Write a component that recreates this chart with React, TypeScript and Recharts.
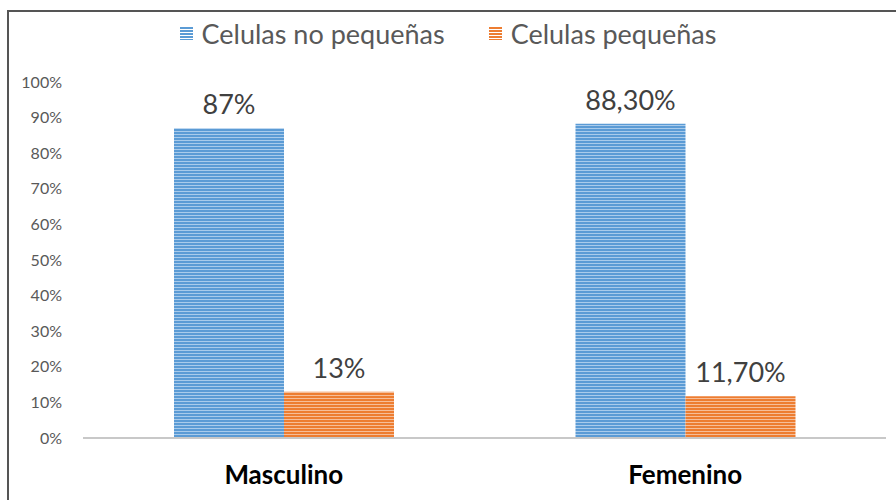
import React from "react";
import {
  BarChart,
  Bar,
  XAxis,
  YAxis,
  Legend,
  LabelList,
} from "recharts";

const categories = ["Masculino", "Femenino"];
const noPequenas = [87, 88.3];
const pequenas = [13, 11.7];
const noPequenasLabels = ["87%", "88,30%"];
const pequenasLabels = ["13%", "11,70%"];
const yTicks = [0, 10, 20, 30, 40, 50, 60, 70, 80, 90, 100];

const seriesNames = ["Celulas no pequeñas", "Celulas pequeñas"];
const blue = "#5B9BD5";
const orange = "#ED7D31";

const chartData = categories.map((name, i) => ({
  name,
  noPeq: noPequenas[i],
  peq: pequenas[i],
  noPeqLabel: noPequenasLabels[i],
  peqLabel: pequenasLabels[i],
}));

const font = "Lato, 'Open Sans', sans-serif";

function LegendContent() {
  const items = [
    { label: seriesNames[0], color: blue },
    { label: seriesNames[1], color: orange },
  ];
  return (
    <div
      style={{
        display: "flex",
        justifyContent: "center",
        height: 40,
        alignItems: "center",
        fontFamily: font,
        fontSize: 27,
        color: "#595959",
      }}
    >
      {items.map((it) => (
        <span
          key={it.label}
          style={{ display: "flex", alignItems: "center", margin: "0 22px" }}
        >
          <span
            style={{
              width: 13,
              height: 13,
              marginRight: 9,
              background: `repeating-linear-gradient(to bottom, ${it.color} 0px, ${it.color} 2px, rgba(255,255,255,0.45) 2px, rgba(255,255,255,0.45) 3px)`,
            }}
          />
          {it.label}
        </span>
      ))}
    </div>
  );
}

export default function App() {
  return (
    <div
      style={{
        position: "absolute",
        left: 0,
        top: 0,
        width: 896,
        height: 500,
        background: "#fff",
        overflow: "hidden",
      }}
    >
      <div
        style={{
          position: "absolute",
          left: 7,
          top: 10,
          width: 950,
          height: 550,
          border: "2px solid #555",
          boxSizing: "border-box",
        }}
      />
      <div style={{ position: "absolute", left: 0, top: 0 }}>
        <BarChart
          width={896}
          height={500}
          data={chartData}
          margin={{ top: 42, right: 10, left: 0, bottom: 32 }}
          barCategoryGap="22.5%"
          barGap={0}
        >
          <defs>
            <pattern id="stripeBlue" width="4" height="3" patternUnits="userSpaceOnUse">
              <rect width="4" height="3" fill={blue} />
              <rect y="2" width="4" height="1" fill="#A9CBEB" />
            </pattern>
            <pattern id="stripeOrange" width="4" height="3" patternUnits="userSpaceOnUse">
              <rect width="4" height="3" fill={orange} />
              <rect y="2" width="4" height="1" fill="#F6BE99" />
            </pattern>
          </defs>
          <Legend
            verticalAlign="top"
            content={<LegendContent />}
            wrapperStyle={{ top: 13, left: 0, width: 896 }}
          />
          <XAxis
            dataKey="name"
            height={30}
            axisLine={{ stroke: "#c8c8c8", strokeWidth: 2 }}
            tickLine={false}
            tickSize={0}
            tickMargin={28}
            tick={{ fill: "#000", fontSize: 26, fontWeight: 700, fontFamily: font }}
          />
          <YAxis
            width={83}
            domain={[0, 100]}
            ticks={yTicks}
            interval={0}
            axisLine={false}
            tickLine={false}
            tickSize={0}
            tickMargin={21}
            tickFormatter={(v) => `${v}%`}
            tick={{ fill: "#595959", fontSize: 16, fontFamily: font }}
          />
          <Bar
            dataKey="noPeq"
            name={seriesNames[0]}
            fill="url(#stripeBlue)"
            barSize={110}
            isAnimationActive={false}
          >
            <LabelList
              dataKey="noPeqLabel"
              position="top"
              offset={14}
              fill="#404040"
              fontSize={27}
              fontFamily={font}
            />
          </Bar>
          <Bar
            dataKey="peq"
            name={seriesNames[1]}
            fill="url(#stripeOrange)"
            barSize={110}
            isAnimationActive={false}
          >
            <LabelList
              dataKey="peqLabel"
              position="top"
              offset={14}
              fill="#404040"
              fontSize={27}
              fontFamily={font}
            />
          </Bar>
        </BarChart>
      </div>
    </div>
  );
}
